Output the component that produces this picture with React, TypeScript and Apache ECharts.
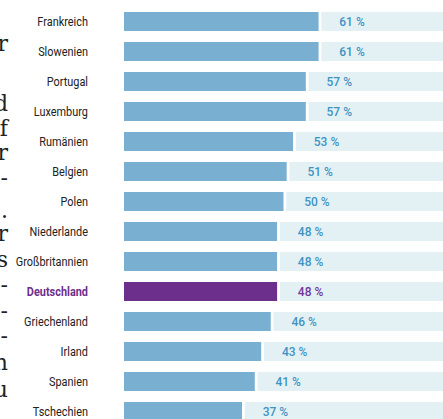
import React, { useEffect, useRef } from "react";
import * as echarts from "echarts";

const categories = [
  "Frankreich",
  "Slowenien",
  "Portugal",
  "Luxemburg",
  "Rumänien",
  "Belgien",
  "Polen",
  "Niederlande",
  "Großbritannien",
  "Deutschland",
  "Griechenland",
  "Irland",
  "Spanien",
  "Tschechien",
];
const values = [61, 61, 57, 57, 53, 51, 50, 48, 48, 48, 46, 43, 41, 37];
const highlight = "Deutschland";
const gapValue = 0.85;
const maxValue = 100;

// fragments of the neighbouring article text, cut off at the left edge
const sideTexts = ["r", "d", "f", "r", "-", ".", "r", "s", "-", "-", "-", "n", "u", "."];
const sideTextY = [43, 103, 128, 152, 177, 210, 233, 259, 284, 310, 335, 362, 389, 414];

const FONT = "Roboto, 'Noto Sans', sans-serif";
const BLUE = "#79b0d1";
const LIGHT = "#e3f1f4";
const PURPLE = "#6c2f8b";
const LABEL_BLUE = "#3f93c3";
const LABEL_PURPLE = "#74359a";

export default function App() {
  const ref = useRef<HTMLDivElement>(null);
  useEffect(() => {
    document.body.style.margin = "0";
    const chart = echarts.init(ref.current!, null, { renderer: "svg" });
    chart.setOption({
      animation: false,
      grid: { left: 124, top: 6.5, width: 320, height: 420, containLabel: false },
      xAxis: { type: "value", min: 0, max: maxValue, show: false },
      yAxis: {
        type: "category",
        data: categories,
        inverse: true,
        axisLine: { show: false },
        axisTick: { show: false },
        splitLine: { show: false },
        axisLabel: { show: false },
      },
      series: [
        {
          type: "bar",
          stack: "s",
          barWidth: 19,
          silent: true,
          data: values.map((v, i) => ({
            value: v,
            itemStyle: { color: categories[i] === highlight ? PURPLE : BLUE },
          })),
        },
        {
          type: "bar",
          stack: "s",
          barWidth: 19,
          silent: true,
          itemStyle: { color: "rgba(0,0,0,0)" },
          data: values.map(() => gapValue),
        },
        {
          type: "bar",
          stack: "s",
          barWidth: 19,
          silent: true,
          itemStyle: { color: LIGHT },
          data: values.map((v, i) => ({
            value: maxValue - v - gapValue,
            label: {
              show: true,
              position: "insideLeft",
              distance: 18,
              formatter: () => `${v} %`,
              fontFamily: FONT,
              fontSize: 12,
              fontWeight: 500,
              color: categories[i] === highlight ? LABEL_PURPLE : LABEL_BLUE,
            },
          })),
        },
      ],
    });

    // category names, placed through the category axis scale, condensed horizontally
    const nameTexts = categories.map((name) => {
      const y = chart.convertToPixel({ yAxisIndex: 0 }, name) as number;
      const isHi = name === highlight;
      return {
        type: "text",
        x: 88,
        y,
        scaleX: 0.84,
        style: {
          text: name,
          align: "right",
          verticalAlign: "middle",
          font: `${isHi ? "bold" : "normal"} 13px ${FONT}`,
          fill: isHi ? PURPLE : "#222",
        },
      };
    });
    const side = sideTexts.map((t, i) => ({
      type: "text",
      x: 8,
      y: sideTextY[i],
      style: {
        text: t,
        align: "right",
        verticalAlign: "middle",
        font: "22px 'DejaVu Serif', 'Liberation Serif', serif",
        fill: "#222",
      },
    }));
    chart.setOption({ graphic: [...side, ...nameTexts] });
    return () => chart.dispose();
  }, []);
  return (
    <div style={{ width: 443, height: 419, overflow: "hidden", position: "relative" }}>
      <div ref={ref} style={{ width: 443, height: 440 }} />
    </div>
  );
}
